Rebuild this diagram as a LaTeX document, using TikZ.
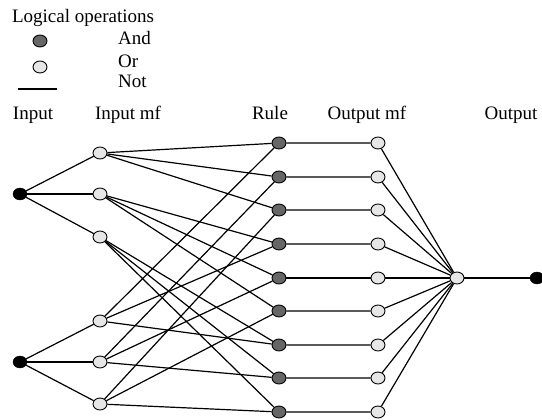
\documentclass[tikz,border=0pt]{standalone}
\usepackage{fontspec}
\setmainfont{Liberation Serif}
\usetikzlibrary{shapes.geometric}
\usepackage{xcolor}
\definecolor{anddark}{HTML}{666666}
\definecolor{orlight}{HTML}{E6E6E6}
\tikzset{
 andnode/.style={ellipse, draw=black, line width=.9pt, fill=anddark, minimum width=14pt, minimum height=12pt, inner sep=0},
 ornode/.style={ellipse, draw=black, line width=.9pt, fill=orlight, minimum width=14pt, minimum height=12pt, inner sep=0},
 innode/.style={ellipse, draw=black, fill=black, minimum width=14pt, minimum height=12pt, inner sep=0},
 link/.style={black, line width=1.2pt}
}

\begin{document}
\begin{tikzpicture}[x=1pt,y=-1pt, font=\fontsize{19}{22}\selectfont]
\useasboundingbox (0,0) rectangle (542,420);
% legend
\node[anchor=base] (legtitle) at (83,23) {Logical operations};
\node[andnode] (legand) at (40,41) {};
\node[ornode] (legor) at (40,67) {};
\coordinate (notA) at (18,89);
\coordinate (notB) at (57,89);
\draw[line width=2pt] (notA) -- (notB);
\node[anchor=base west, inner sep=0] (tand) at (118,45) {And};
\node[anchor=base west, inner sep=0] (tor) at (118,68) {Or};
\node[anchor=base west, inner sep=0] (tnot) at (118,88) {Not};
% layer titles
\foreach \x/\t [count=\k] in {33/Input,128/Input mf,270/Rule,367/Output mf,511/Output}
 \node[anchor=base] (head\k) at (\x,120) {\t};
% nodes
\node[innode] (in1) at (20,194) {};
\node[innode] (in2) at (20,362) {};
\foreach \y [count=\i] in {153,194,237,321,362,404}
 \node[ornode] (mf\i) at (100,\y) {};
\foreach \y [count=\i] in {143,177,210,244,278,311,345,378,412} {
 \node[andnode] (r\i) at (279,\y) {};
 \node[ornode] (om\i) at (378,\y) {};
}
\node[ornode] (sum) at (457,278) {};
\node[innode] (out) at (537,278) {};
% links
\foreach \i in {1,2,3} \draw[link] (in1) -- (mf\i);
\foreach \i in {4,5,6} \draw[link] (in2) -- (mf\i);
\foreach \i in {1,2,3} \foreach \j in {1,2,3} {
 \pgfmathtruncatemacro\r{3*(\i-1)+\j}
 \pgfmathtruncatemacro\b{\j+3}
 \draw[link] (mf\i) -- (r\r);
 \draw[link] (mf\b) -- (r\r);
}
\foreach \i in {1,...,9} \draw[link] (r\i) -- (om\i) (om\i) -- (sum);
\draw[link] (sum) -- (out);
\end{tikzpicture}
\end{document}
